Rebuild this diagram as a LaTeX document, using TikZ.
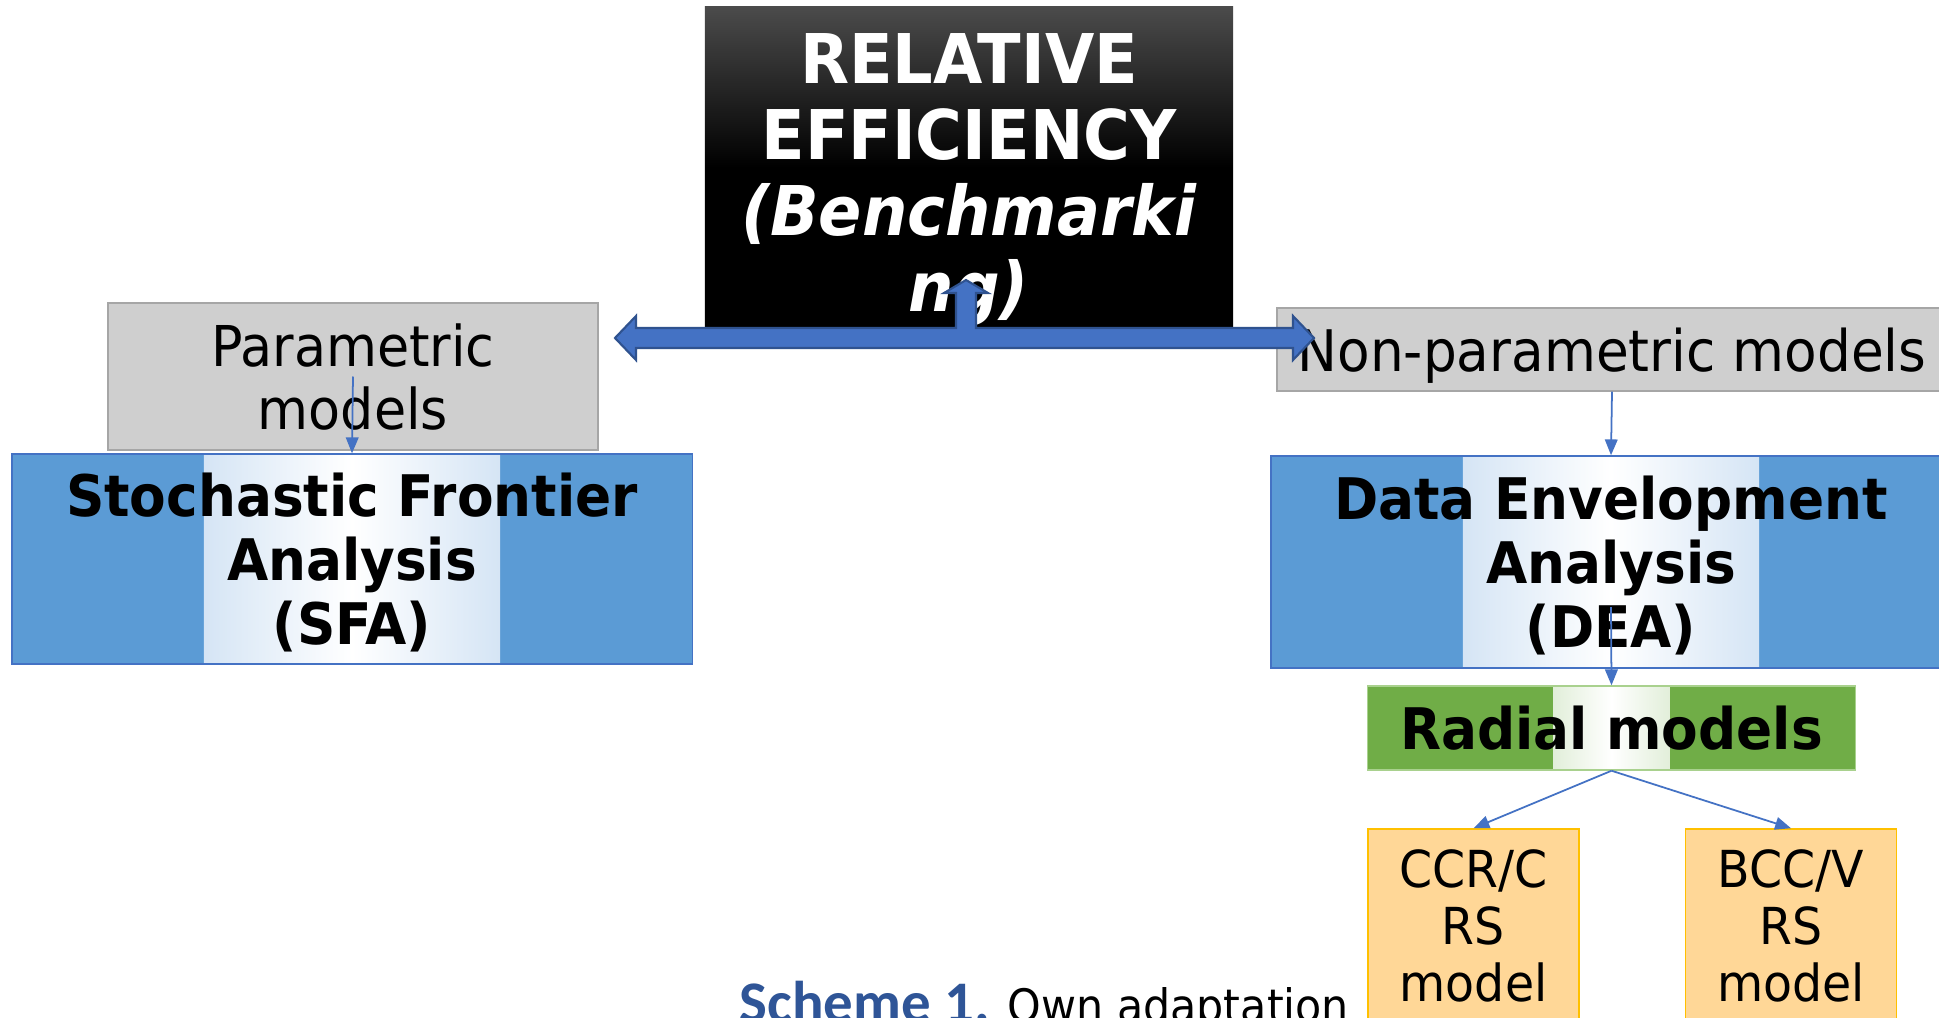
\documentclass[tikz,border=0pt]{standalone}
\usepackage{fontspec}
\setmainfont{DejaVu Sans}[FakeStretch=0.93]
\newfontfamily\capfont{Carlito}
\usetikzlibrary{arrows.meta}

\definecolor{fillblue}{HTML}{5B9BD5}
\definecolor{edgeblue}{HTML}{4472C4}
\definecolor{stripeblue}{HTML}{9FC3E8}
\definecolor{arrowblue}{HTML}{4472C4}
\definecolor{arrowedge}{HTML}{2F528F}
\definecolor{greyfill}{HTML}{CFCFCF}
\definecolor{greyedge}{HTML}{A6A6A6}
\definecolor{greenfill}{HTML}{70AD47}
\definecolor{stripegreen}{HTML}{86BA63}
\definecolor{greenedge}{HTML}{A9D18E}
\definecolor{peachfill}{HTML}{FFD797}
\definecolor{peachedge}{HTML}{FFC000}
\definecolor{titlegrey}{HTML}{4B4B4B}
\definecolor{capblue}{HTML}{2F5597}

\begin{document}
\begin{tikzpicture}[x=0.01cm,y=-0.01cm,
    every node/.style={inner sep=0pt,align=center},
    greybox/.style={draw=greyedge,fill=greyfill,text depth=0pt,font=\fontsize{16}{17.9}\selectfont},
    bluebox/.style={draw=edgeblue,fill=fillblue,minimum width=6.8cm,text depth=0pt,
        font=\bfseries\fontsize{16.3}{18.2}\selectfont,
        path picture={\shade[left color=stripeblue,right color=stripeblue,middle color=white]
            ([xshift=-1.48cm]path picture bounding box.south) rectangle
            ([xshift=1.48cm]path picture bounding box.north);}},
    greenbox/.style={draw=greenedge,fill=greenfill,
        font=\bfseries\fontsize{16.3}{18}\selectfont,
        path picture={\shade[left color=stripegreen,right color=stripegreen,middle color=white]
            ([xshift=-0.58cm]path picture bounding box.south) rectangle
            ([xshift=0.58cm]path picture bounding box.north);}},
    modelbox/.style={draw=peachedge,fill=peachfill,minimum width=2.11cm,minimum height=1.94cm,
        font=\fontsize{14.5}{16.2}\selectfont},
    link/.style={draw=edgeblue,line width=0.5pt,-{Triangle[length=4.5pt,width=3.6pt]}}
    ]

    \path[use as bounding box,fill=white] (0,0) rectangle (1939,1018);

    % top box
    \node[minimum width=5.28cm,minimum height=3.21cm,top color=titlegrey,bottom color=black,
        middle color=black,text=white,text depth=0pt,
        font=\bfseries\fontsize{19.5}{21.6}\selectfont] (title) at (969,167.5)
        {\rule{0pt}{17pt}RELATIVE\\EFFICIENCY\\\textit{(Benchmarki}\\\textit{ng)}};

    % left branch
    \node[greybox,minimum width=4.9cm,minimum height=1.47cm] (param) at (353,376.5) {Parametric\\models};
    \node[bluebox,minimum height=2.1cm] (sfa) at (352,559) {Stochastic Frontier\\Analysis\\(SFA)};

    % right branch
    \node[greybox,minimum width=6.7cm,minimum height=0.83cm,font=\fontsize{16.3}{18}\selectfont] (nonpar) at (1612,349.5) {Non-parametric models};
    \node[bluebox,minimum height=2.12cm] (dea) at (1611,562) {Data Envelopment\\Analysis\\(DEA)};
    \node[greenbox,minimum width=4.88cm,minimum height=0.84cm] (radial) at (1611.5,728) {Radial models};
    \node[modelbox] (ccr) at (1473.5,926) {CCR/C\\RS\\model};
    \node[modelbox] (bcc) at (1791,926) {BCC/V\\RS\\model};
    \coordinate (deain) at (1611,607);

    % block arrow
    \filldraw[fill=arrowblue,draw=arrowedge,line width=0.6pt]
        (615,338) -- (636,316) -- (636,328) -- (956,328) -- (956,293) -- (944,293)
        -- (966,280) -- (988,293) -- (976,293) -- (976,328) -- (1293,328) -- (1293,316)
        -- (1314,338) -- (1293,360) -- (1293,348) -- (636,348) -- (636,360) -- cycle;

    \draw[link] (param.center) -- (sfa.north);
    \draw[link] (nonpar.south) -- (dea.north);
    \draw[link] (deain) -- (radial.north);
    \draw[link] (radial.south) -- (ccr.north);
    \draw[link] (radial.south) -- (bcc.north);

    % caption
    \node[anchor=base west] (caption) at (739,1022)
        {{\capfont\bfseries\fontsize{16.75}{18}\selectfont\color{capblue}Scheme 1.}\hspace{5pt}{\fontsize{13.1}{15}\selectfont Own adaptation}};

\end{tikzpicture}
\end{document}
